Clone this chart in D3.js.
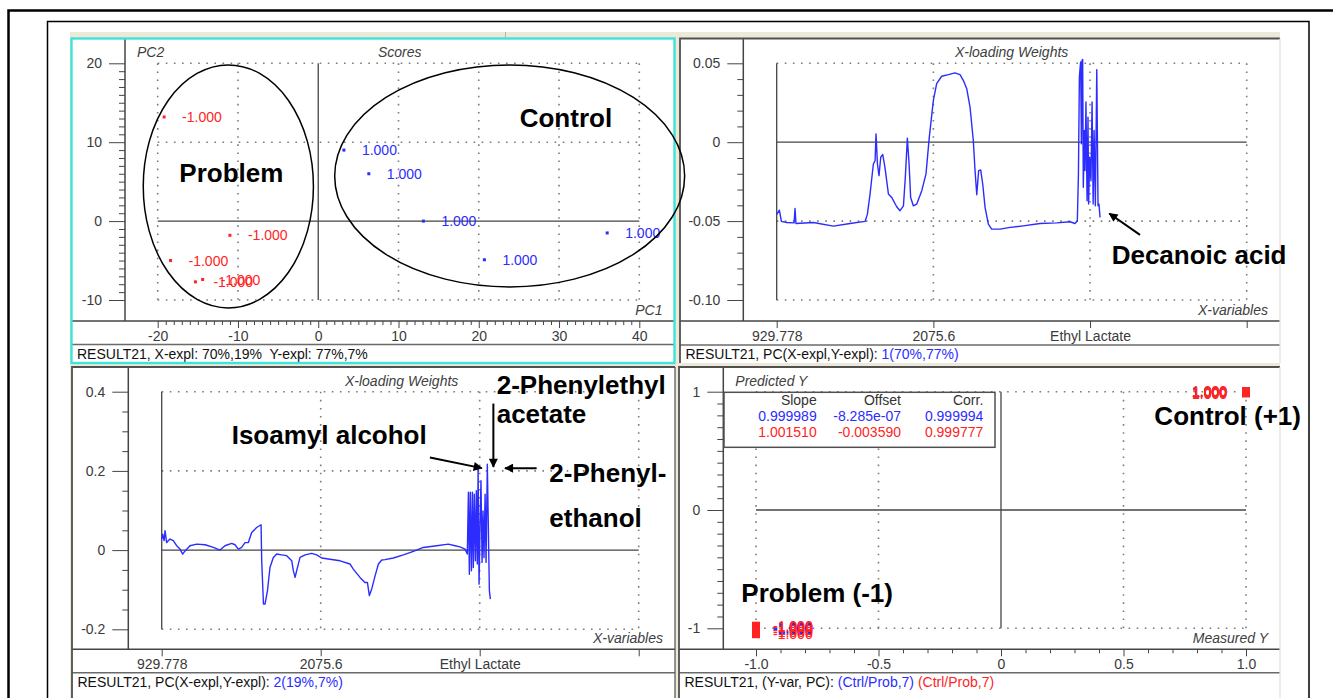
<!DOCTYPE html>
<html>
<head>
<meta charset="utf-8">
<script src="https://cdn.jsdelivr.net/npm/d3@7"></script>
<style>
  body { margin: 0; background: #fff; }
  text { font-family: "Liberation Sans", Arial, sans-serif; white-space: pre; }
</style>
</head>
<body>
<svg id="chart" width="1333" height="698"></svg>
<script>
// ---------- data ----------
// Scores (PC1, PC2) and the Y value of each sample
const problemScores = [[-19.2, 13.2], [-11.0, -1.8], [-18.4, -5.0], [-15.3, -7.7], [-14.4, -7.4]];
const controlScores = [[3.2, 9.0], [6.3, 6.0], [13.1, 0.0], [20.7, -4.9], [36.0, -1.5]];
const problemY = -1;
const controlY = 1;

const scoreXTicks = [-20, -10, 0, 10, 20, 30, 40];
const scoreYTicks = [-10, 0, 10, 20];

// X-variable axis (variable index) and its tick names
const variableTickIndex = [0, 100, 200, 300];
const variableTickNames = ["929.778", "2075.6", "Ethyl Lactate", ""];

// X-loading weights, PC1: [variable index, weight]
const loadingPC1 = [
  [0, -0.0457], [1.7, -0.0431], [3.0, -0.0502], [6.4, -0.0509], [11.1, -0.0511], [11.7, -0.0420],
  [12.3, -0.0515], [23.4, -0.0509], [36.2, -0.0532], [46.8, -0.0515], [56.4, -0.0502], [57.9, -0.0456],
  [59.6, -0.0328], [61.7, -0.0138], [62.8, -0.0117], [63.4, 0.0053], [64.3, -0.0138], [65.3, -0.0212],
  [66.4, -0.0095], [67.7, -0.0078], [69.1, -0.0159], [71.3, -0.0328], [73.4, -0.0350], [76.6, -0.0409],
  [78.7, -0.0434], [80.9, -0.0403], [82.1, -0.0223], [83.4, 0.0026], [84.5, -0.0138], [85.5, -0.0350],
  [87.2, -0.0403], [89.4, -0.0392], [92.6, -0.0307], [95.3, -0.0201], [97.4, 0.0032], [100.0, 0.0265],
  [102.1, 0.0371], [105.3, 0.0418], [109.6, 0.0428], [113.8, 0.0439], [117.0, 0.0428], [119.1, 0.0392],
  [121.3, 0.0339], [123.4, 0.0223], [125.5, 0.0011], [126.6, -0.0180], [127.7, -0.0333], [128.9, -0.0180],
  [130.2, -0.0176], [131.5, -0.0265], [133.0, -0.0413], [135.1, -0.0519], [137.2, -0.0551], [142.6, -0.0551],
  [149.0, -0.0540], [157.4, -0.0530], [168.1, -0.0515], [178.7, -0.0511], [187.2, -0.0504], [190.4, -0.0515],
  [191.9, -0.0498], [192.6, -0.0201], [193.2, 0.0414], [194.0, 0.0509], [194.5, -0.0010], [194.9, 0.0520],
  [195.3, 0.0524], [195.7, -0.0286], [196.4, 0.0074], [196.8, -0.0180], [197.4, 0.0255], [198.1, -0.0371],
  [198.7, 0.0159], [199.1, -0.0392], [199.8, -0.0095], [200.6, -0.0244], [201.3, 0.0255], [202.0, -0.0392],
  [202.6, 0.0074], [203.4, -0.0403], [204.3, 0.0460], [205.1, -0.0403], [205.7, -0.0392], [206.4, -0.0477]
];

// X-loading weights, PC2: [variable index, weight]
const loadingPC2 = [
  [0, 0.028], [0.6, 0.040], [1.5, 0.024], [2.1, 0.049], [3.1, 0.019], [5.2, 0.028], [7.3, 0.024],
  [9.4, 0.011], [11.5, 0.0025], [13.2, -0.010], [14.7, -0.002], [17.8, 0.011], [22.0, 0.015],
  [27.3, 0.0135], [32.5, 0.0067], [36.7, 0.000], [39.8, 0.011], [44.0, 0.017], [46.1, 0.0135],
  [48.2, 0.0025], [50.3, 0.0067], [52.4, 0.019], [54.5, 0.019], [56.6, 0.0446], [59.7, 0.057],
  [62.5, 0.064], [62.9, -0.027], [64.0, -0.136], [65.0, -0.136], [66.5, -0.103], [68.1, -0.044],
  [70.2, -0.0185], [72.3, -0.010], [75.5, -0.012], [78.6, -0.014], [81.8, -0.027], [82.8, -0.052],
  [83.9, -0.069], [84.9, -0.052], [87.0, -0.0185], [90.2, -0.012], [94.3, -0.0084], [97.5, -0.012],
  [100.6, -0.020], [105.9, -0.023], [112.2, -0.027], [118.4, -0.035], [120.5, -0.048], [124.7, -0.069],
  [127.8, -0.082], [129.4, -0.082], [130.6, -0.115], [132.1, -0.098], [134.2, -0.065], [136.3, -0.035],
  [138.4, -0.025], [140.4, -0.024], [145.7, -0.020], [152.0, -0.012], [158.3, -0.003], [164.5, 0.0067],
  [172.9, 0.011], [180.3, 0.015], [184.5, 0.011], [187.6, 0.008], [190.8, 0.0025], [192.2, -0.010],
  [192.9, 0.146], [193.5, -0.061], [194.1, 0.146], [194.8, -0.052], [195.4, 0.146], [196.0, -0.044],
  [196.6, 0.141], [197.3, -0.027], [197.9, 0.150], [198.5, -0.035], [199.0, 0.205], [199.6, -0.086],
  [200.2, 0.057], [200.8, 0.175], [201.5, -0.031], [202.1, 0.099], [202.7, -0.019], [203.4, 0.141],
  [204.0, -0.031], [204.8, 0.217], [205.7, -0.010], [206.1, -0.103], [206.7, -0.124]
];

const pc1YTicks = [-0.10, -0.05, 0, 0.05];
const pc2YTicks = [-0.2, 0, 0.2, 0.4];

// Predicted vs measured Y: [measured, predicted]
const calibrationPred = [[-1, -0.995], [-1, -1.0], [-1, -1.006], [-1, -1.012], [-1, -0.99],
                         [1, 1.0], [1, 0.999], [1, 1.001], [1, 0.996], [1, 1.0]];
const validationPred = [[-1, -0.978], [-1, -0.992], [-1, -1.01], [-1, -1.03], [-1, -1.05],
                        [1, 1.004], [1, 0.99], [1, 0.985], [1, 1.0], [1, 0.995]];
const predTicks = [-1, -0.5, 0, 0.5, 1];
const predYTicks = [-1, 0, 1];

const statHeader = ["Slope", "Offset", "Corr."];
const statCalibration = ["0.999989", "-8.285e-07", "0.999994"];
const statValidation = ["1.001510", "-0.003590", "0.999777"];

// ---------- drawing ----------
const W = 1333, H = 698;
const BLUE = "#2c2cff", RED = "#ff2424", INK = "#3a3a3a", LINE = "#454545";
const svg = d3.select("#chart");

const defs = svg.append("defs");
defs.append("marker").attr("id", "arrow").attr("viewBox", "0 0 10 10")
  .attr("refX", 9).attr("refY", 5).attr("markerWidth", 5).attr("markerHeight", 4.5)
  .attr("orient", "auto")
  .append("path").attr("d", "M0,0 L10,5 L0,10 z").attr("fill", "#000");

svg.append("rect").attr("width", W).attr("height", H).attr("fill", "#fff");
// document frames
svg.append("path").attr("d", "M8.5,700 V10.5 H1335").attr("fill", "none")
  .attr("stroke", "#000").attr("stroke-width", 2.5);
svg.append("rect").attr("x", 47.5).attr("y", 21.5).attr("width", 1261.5).attr("height", 700)
  .attr("fill", "none").attr("stroke", "#000").attr("stroke-width", 1.5);
// application window
svg.append("rect").attr("x", 70).attr("y", 32).attr("width", 1210).attr("height", H)
  .attr("fill", "#ece9d8");
svg.append("line").attr("x1", 505.5).attr("x2", 505.5).attr("y1", 32).attr("y2", 37)
  .attr("stroke", "#b8b5a6");

function styleAxis(sel) {
  sel.select(".domain").remove();
  sel.selectAll("line").attr("stroke", LINE).attr("stroke-width", 1);
  sel.selectAll("text").attr("fill", INK).attr("font-size", 14)
    .attr("font-family", '"Liberation Sans", Arial, sans-serif');
}

function drawPanel(p) {
  const g = svg.append("g");
  g.append("rect").attr("x", p.x0).attr("y", p.y0).attr("width", p.x1 - p.x0)
    .attr("height", p.y1 - p.y0).attr("fill", "#fff");

  const x = d3.scaleLinear().domain(p.xDomain).range(p.xRange);
  const y = d3.scaleLinear().domain(p.yDomain).range(p.yRange);
  const [xa, xb] = p.xDomain, [ya, yb] = p.yDomain;

  // dotted grid
  const grid = g.append("g").attr("stroke", "#7c7c7c").attr("stroke-width", 1.6)
    .attr("stroke-dasharray", "1.6,6.5");
  p.xGrid.forEach(v => grid.append("line").attr("x1", x(v)).attr("x2", x(v))
    .attr("y1", y(yb)).attr("y2", y(ya)));
  p.yGrid.forEach(v => grid.append("line").attr("x1", x(xa)).attr("x2", x(xb))
    .attr("y1", y(v)).attr("y2", y(v)));

  // zero lines
  g.append("line").attr("x1", x(p.xZero)).attr("x2", x(p.xZero)).attr("y1", y(yb)).attr("y2", y(ya))
    .attr("stroke", LINE).attr("stroke-width", 1.3);
  g.append("line").attr("x1", x(xa)).attr("x2", x(xb)).attr("y1", y(0)).attr("y2", y(0))
    .attr("stroke", LINE).attr("stroke-width", 1.3);

  // frame: axis strip, bottom strip, status bar
  g.append("line").attr("x1", p.axisX).attr("x2", p.axisX).attr("y1", p.y0).attr("y2", p.frameY)
    .attr("stroke", LINE).attr("stroke-width", 1.5);
  g.append("line").attr("x1", p.x0).attr("x2", p.x1).attr("y1", p.frameY).attr("y2", p.frameY)
    .attr("stroke", LINE).attr("stroke-width", 1.5);
  g.append("line").attr("x1", p.x0).attr("x2", p.x1).attr("y1", p.statusY).attr("y2", p.statusY)
    .attr("stroke", "#6a6a6a").attr("stroke-width", 1.5);

  // y axis
  styleAxis(g.append("g").attr("transform", `translate(${p.axisX},0)`)
    .call(d3.axisLeft(y).tickValues(p.yTicks).tickFormat(p.yFormat).tickSize(16).tickPadding(7)));
  if (p.yMinor) styleAxis(g.append("g").attr("transform", `translate(${p.axisX},0)`)
    .call(d3.axisLeft(y).tickValues(p.yMinor).tickFormat("").tickSize(6)));
  // x axis
  styleAxis(g.append("g").attr("transform", `translate(0,${p.frameY})`)
    .call(d3.axisBottom(x).tickValues(p.xTicks).tickFormat(p.xFormat).tickSize(7).tickPadding(3)));
  if (p.xMinor) styleAxis(g.append("g").attr("transform", `translate(0,${p.frameY})`)
    .call(d3.axisBottom(x).tickValues(p.xMinor).tickFormat("").tickSize(4)));

  // titles
  const it = (tx, ty, s, anchor) => g.append("text").attr("x", tx).attr("y", ty)
    .attr("text-anchor", anchor).attr("font-style", "italic").attr("font-size", 14)
    .attr("fill", "#404040").text(s);
  if (p.cornerTitle) it(p.axisX + 12, p.y0 + 18.5, p.cornerTitle, "start");
  if (p.title) it((p.axisX + p.x1) / 2, p.y0 + 18.5, p.title, "middle");
  it(p.x1 - 12, p.frameY - 6, p.xTitle, "end");

  // status bar
  const st = g.append("text").attr("x", p.x0 + 5.5).attr("y", p.statusY + 14)
    .attr("font-size", 14).attr("fill", "#111");
  p.status.forEach(([s, c]) => st.append("tspan").attr("fill", c).text(s));

  // panel border (dark on the sunken left/top edges)
  if (p.active) {
    g.append("rect").attr("x", p.x0).attr("y", p.y0).attr("width", p.x1 - p.x0)
      .attr("height", p.y1 - p.y0).attr("fill", "none")
      .attr("stroke", "#3fe3dc").attr("stroke-width", 2.4);
  } else {
    g.append("path")
      .attr("d", `M${p.x0},${p.y1} V${p.y0} H${p.x1}`)
      .attr("fill", "none").attr("stroke", "#505050").attr("stroke-width", 1.8);
    g.append("path")
      .attr("d", `M${p.x1},${p.y0} V${p.y1}`)
      .attr("fill", "none").attr("stroke", p.edgeRight || "#505050").attr("stroke-width", 1.2);
  }
  return { g, x, y };
}

const fmtInt = d => String(d);
const fixed = n => d => (d === 0 ? "0" : d.toFixed(n));
const varName = d => variableTickNames[variableTickIndex.indexOf(d)];
const yLabel = v => v.toFixed(3);
const rangeStep = (a, b, s) => d3.range(Math.round(a / s), Math.round(b / s) + 1).map(k => +(k * s).toFixed(4));

// ----- scores -----
const sc = drawPanel({
  x0: 71.5, y0: 38.5, x1: 674.5, y1: 363, axisX: 125, frameY: 321, statusY: 344.5, active: true,
  xDomain: [-20, 40], xRange: [157.7, 639.3], yDomain: [-10, 20], yRange: [300, 63.3],
  xGrid: [-20, -10, 10, 20, 30, 40], yGrid: [-10, 10, 20], xZero: 0,
  xTicks: scoreXTicks, yTicks: scoreYTicks, xFormat: fmtInt, yFormat: fmtInt,
  xMinor: rangeStep(-20, 40, 1).filter(v => !scoreXTicks.includes(v)),
  yMinor: rangeStep(-10, 20, 1).filter(v => !scoreYTicks.includes(v)),
  cornerTitle: "PC2", title: "Scores", xTitle: "PC1",
  status: [["RESULT21, X-expl: 70%,19%  Y-expl: 77%,7%", "#111"]]
});
[[problemScores, RED, problemY], [controlScores, BLUE, controlY]].forEach(([pts, col, val]) => {
  sc.g.selectAll(null).data(pts).enter().append("rect")
    .attr("x", d => sc.x(d[0]) - 1.5).attr("y", d => sc.y(d[1]) - 1.5)
    .attr("width", 3).attr("height", 3).attr("fill", col);
  sc.g.selectAll(null).data(pts).enter().append("text")
    .attr("x", d => sc.x(d[0]) + 18).attr("y", d => sc.y(d[1])).attr("dy", "0.36em")
    .attr("font-size", 14).attr("fill", col).text(yLabel(val));
});

// ----- loading weights PC1 -----
const l1 = drawPanel({
  x0: 680, y0: 38.5, x1: 1280, y1: 363, axisX: 743.3, frameY: 321, statusY: 345, edgeRight: "#e2e0d6",
  xDomain: [0, 300], xRange: [776.7, 1246.7], yDomain: [-0.10, 0.05], yRange: [300, 63.3],
  xGrid: [100, 200, 300], yGrid: [-0.10, -0.05, 0.05], xZero: 0,
  xTicks: variableTickIndex, yTicks: pc1YTicks, xFormat: varName, yFormat: fixed(2),
  yMinor: rangeStep(-0.10, 0.05, 0.01).filter(v => !pc1YTicks.includes(v)),
  title: "X-loading Weights", xTitle: "X-variables",
  status: [["RESULT21, PC(X-expl,Y-expl): ", "#111"], ["1(70%,77%)", BLUE]]
});
l1.g.append("path").datum(loadingPC1)
  .attr("d", d3.line().x(d => l1.x(d[0])).y(d => l1.y(d[1])))
  .attr("fill", "none").attr("stroke", BLUE).attr("stroke-width", 1.4).attr("stroke-linejoin", "round");

// ----- loading weights PC2 -----
const l2 = drawPanel({
  x0: 72, y0: 367, x1: 675, y1: 705, axisX: 128.3, frameY: 649.3, statusY: 672.7,
  xDomain: [0, 300], xRange: [161.7, 638.7], yDomain: [-0.2, 0.4], yRange: [629.3, 391.7],
  xGrid: [100, 200, 300], yGrid: [-0.2, 0.2, 0.4], xZero: 0,
  xTicks: variableTickIndex, yTicks: pc2YTicks, xFormat: varName, yFormat: fixed(1),
  yMinor: rangeStep(-0.2, 0.4, 0.05).filter(v => !pc2YTicks.includes(v)),
  title: "X-loading Weights", xTitle: "X-variables",
  status: [["RESULT21, PC(X-expl,Y-expl): ", "#111"], ["2(19%,7%)", BLUE]]
});
l2.g.append("path").datum(loadingPC2)
  .attr("d", d3.line().x(d => l2.x(d[0])).y(d => l2.y(d[1])))
  .attr("fill", "none").attr("stroke", BLUE).attr("stroke-width", 1.4).attr("stroke-linejoin", "round");

// ----- predicted vs measured -----
const pv = drawPanel({
  x0: 679, y0: 367, x1: 1280, y1: 705, axisX: 723.3, frameY: 649.3, statusY: 672.7, edgeRight: "#e2e0d6",
  xDomain: [-1, 1], xRange: [756, 1246], yDomain: [-1, 1], yRange: [628.3, 391.7],
  xGrid: [-1, -0.5, 0.5, 1], yGrid: [-1, 1], xZero: 0,
  xTicks: predTicks, yTicks: predYTicks, xFormat: fixed(1), yFormat: fmtInt,
  xMinor: rangeStep(-1, 1, 0.1).filter(v => !predTicks.includes(v)),
  yMinor: rangeStep(-1, 1, 0.1).filter(v => !predYTicks.includes(v)),
  cornerTitle: "Predicted Y", xTitle: "Measured Y",
  status: [["RESULT21, (Y-var, PC): ", "#111"], ["(Ctrl/Prob,7)", BLUE], [" ", "#111"], ["(Ctrl/Prob,7)", RED]]
});
[[calibrationPred, BLUE], [validationPred, RED]].forEach(([pts, col]) => {
  pv.g.selectAll(null).data(pts).enter().append("rect")
    .attr("x", d => pv.x(d[0]) - 4).attr("y", d => pv.y(d[1]) - 4)
    .attr("width", 8).attr("height", 8).attr("fill", col);
  pv.g.selectAll(null).data(pts).enter().append("text")
    .attr("x", d => pv.x(d[0]) + (d[0] < 0 ? 17 : -19)).attr("y", d => pv.y(d[1])).attr("dy", "0.36em")
    .attr("text-anchor", d => (d[0] < 0 ? "start" : "end"))
    .attr("font-size", 14).attr("fill", col).text(d => yLabel(d[0]));
});
// regression statistics box
const box = pv.g.append("g");
box.append("rect").attr("x", 724).attr("y", 392.3).attr("width", 271).attr("height", 55)
  .attr("fill", "#fff").attr("stroke", "#505050").attr("stroke-width", 1.5);
const colRight = [816.7, 901, 983.3];
[[statHeader, "#333", 405], [statCalibration, BLUE, 420.7], [statValidation, RED, 436.7]]
  .forEach(([row, col, by]) => row.forEach((s, i) => box.append("text")
    .attr("x", colRight[i]).attr("y", by).attr("text-anchor", "end")
    .attr("font-size", 14).attr("fill", col).text(s)));

// ---------- annotations ----------
function note(panel, lines, at, step) {
  lines.forEach((s, i) => svg.append("text")
    .attr("x", panel.x(at[0])).attr("y", panel.y(at[1]) + i * step)
    .attr("font-size", 26).attr("font-weight", "bold").attr("fill", "#000").text(s));
}
function arrow(panel, from, to) {
  svg.append("line").attr("x1", panel.x(from[0])).attr("y1", panel.y(from[1]))
    .attr("x2", panel.x(to[0])).attr("y2", panel.y(to[1]))
    .attr("stroke", "#000").attr("stroke-width", 2).attr("marker-end", "url(#arrow)");
}
function ring(panel, c, r) {
  svg.append("ellipse").attr("cx", panel.x(c[0])).attr("cy", panel.y(c[1]))
    .attr("rx", Math.abs(panel.x(c[0] + r[0]) - panel.x(c[0])))
    .attr("ry", Math.abs(panel.y(c[1] + r[1]) - panel.y(c[1])))
    .attr("fill", "none").attr("stroke", "#000").attr("stroke-width", 1.5);
}

ring(sc, [-11.2, 4.4], [10.6, 15.4]);
ring(sc, [23.85, 5.73], [21.8, 14.07]);
note(sc, ["Problem"], [-17.3, 5.0], 0);
note(sc, ["Control"], [25.1, 11.9], 0);

arrow(l1, [231.9, -0.0587], [212.3, -0.0452]);
note(l1, ["Decanoic acid"], [213.8, -0.0774], 0);

note(l2, ["Isoamyl alcohol"], [44.0, 0.268], 0);
arrow(l2, [168.7, 0.234], [201.3, 0.207]);
note(l2, ["2-Phenylethyl", "acetate"], [210.7, 0.394], 29.4);
arrow(l2, [208.6, 0.370], [208.6, 0.210]);
arrow(l2, [235.8, 0.207], [215.9, 0.207]);
note(l2, ["2-Phenyl-", "ethanol"], [243.8, 0.171], 45);

note(pv, ["Problem (-1)"], [-1.06, -0.781], 0);
note(pv, ["Control (+1)"], [0.626, 0.718], 0);
</script>
</body>
</html>
